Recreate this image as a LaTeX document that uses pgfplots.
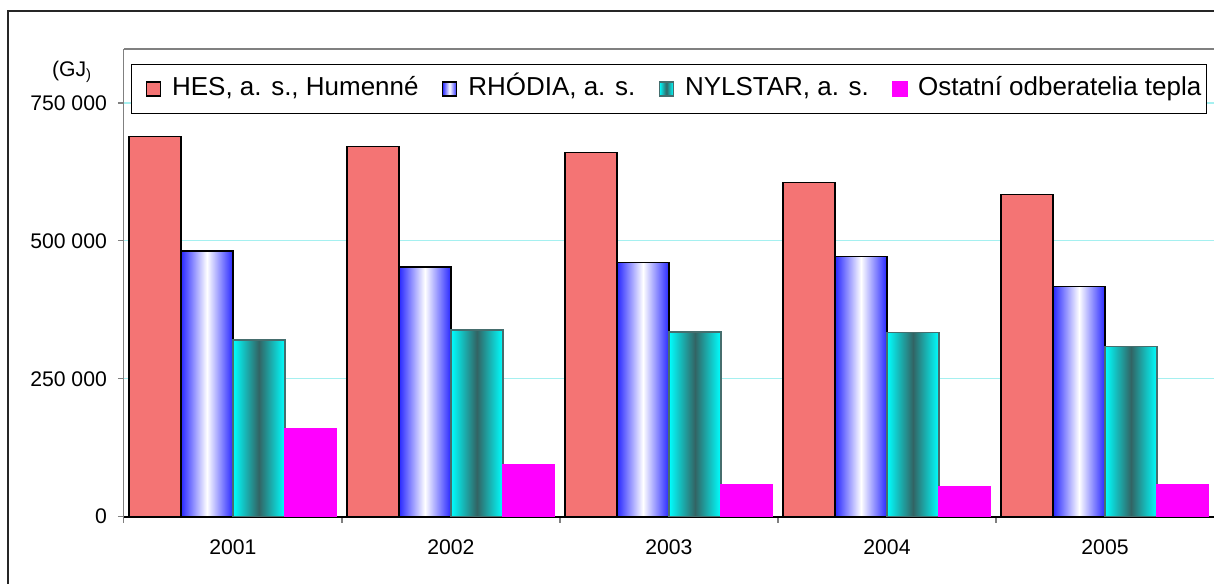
\documentclass[border=0pt]{standalone}
\usepackage{pgfplots}
\pgfplotsset{compat=1.18}
\usepackage{fontspec}
\setmainfont{Liberation Sans}
\definecolor{hes}{RGB}{244,116,116}
\definecolor{rhoblue}{RGB}{40,40,255}
\definecolor{nylcyan}{RGB}{0,255,255}
\definecolor{nyldark}{RGB}{50,100,100}
\definecolor{nylborder}{RGB}{70,110,110}
\definecolor{mag}{RGB}{255,0,255}
\definecolor{gridc}{RGB}{165,240,240}
\pgfdeclarehorizontalshading{rhoshade}{100bp}{color(0bp)=(rhoblue); color(25bp)=(rhoblue); color(50bp)=(white); color(75bp)=(rhoblue); color(100bp)=(rhoblue)}
\pgfdeclarehorizontalshading{nylshade}{100bp}{color(0bp)=(nylcyan); color(25bp)=(nylcyan); color(50bp)=(nyldark); color(75bp)=(nylcyan); color(100bp)=(nylcyan)}
\pgfplotstableread{
x hes rho nyl ost
0 689000 482000 320000 159000
1 671000 453000 338000 94000
2 660000 460700 334600 59000
3 605600 471600 333900 54000
4 583900 417200 308500 59000
}\datatable
\begin{document}
\begin{tikzpicture}
\path (-62pt,-33.5pt) rectangle (545.5pt,258.5pt);
\draw[overlay, line width=0.8pt,black!85] (-58pt,-60pt) -- (-58pt,253pt) -- (545.5pt,253pt);
\begin{axis}[
  scale only axis,
  width=545.5pt, height=234pt,
  at={(0,0)}, anchor=south west,
  clip=false,
  xmin=-0.5, xmax=4.5,
  ymin=0, ymax=848000,
  axis lines=left,
  axis line style={-},
  x axis line style={black, line width=1pt},
  y axis line style={gray, line width=0.6pt},
  ytick={0,250000,500000,750000},
  yticklabels={0,250 000,500 000,750 000},
  scaled y ticks=false,
  ymajorgrids,
  major grid style={gridc, line width=0.6pt},
  tick align=outside,
  major tick length=3pt,
  tick style={gray, line width=0.6pt},
  xtick={-0.5,0.5,1.5,2.5,3.5},
  xticklabels={},
  extra x ticks={0,1,2,3,4},
  extra x tick labels={2001,2002,2003,2004,2005},
  extra x tick style={major tick length=0pt, grid=none},
  ticklabel style={font=\fontsize{10.6}{12}\selectfont, black},
  xticklabel style={yshift=-8pt},
  yticklabel style={xshift=-2pt},
  legend columns=4,
  legend style={
    at={(rel axis cs:0.0064,0.968)}, anchor=north west,
    draw=black, line width=0.7pt,
    inner xsep=2.5pt, inner ysep=6pt,
    font=\fontsize{13}{15}\selectfont,
    nodes={inner sep=0pt, text height=9.5pt, text depth=3pt},
    /tikz/every odd column/.append style={column sep=5pt},
    /tikz/every even column/.append style={column sep=7.2pt},
  },
  legend image code/.code={
    \path (0pt,-3.75pt) (12pt,3.75pt);
    \draw[#1, line width=0.8pt] (4.5pt,-3.5pt) rectangle (11.5pt,3.5pt);
  },
  every axis plot/.append style={ybar, bar width=26pt},
]
% HES
\addplot[draw=black, line width=0.8pt, fill=hes, bar shift=-39pt] table[x=x,y=hes]{\datatable};
\addlegendentry{HES, a. s., Humenné}
% RHODIA: one plot per bar so that each bar gets its own shading
\addlegendimage{draw=black, shade, shading=rhoshade}
\addlegendentry{RHÓDIA, a. s.}
\pgfplotsinvokeforeach{0,1,2,3,4}{
  \addplot[forget plot, draw=black, line width=0.8pt, shade, shading=rhoshade, bar shift=-13pt,
    restrict x to domain=#1:#1] table[x=x,y=rho]{\datatable};
}
% NYLSTAR
\addlegendimage{draw=nylborder, shade, shading=nylshade}
\addlegendentry{NYLSTAR, a. s.}
\pgfplotsinvokeforeach{0,1,2,3,4}{
  \addplot[forget plot, draw=nylborder, line width=0.8pt, shade, shading=nylshade, bar shift=13pt,
    restrict x to domain=#1:#1] table[x=x,y=nyl]{\datatable};
}
% Ostatni
\addplot[draw=mag, line width=0.5pt, fill=mag, bar shift=39pt] table[x=x,y=ost]{\datatable};
\addlegendentry{Ostatní odberatelia tepla}
\draw[gray, line width=0.6pt] (rel axis cs:0,1) -- (rel axis cs:1,1);
\node[font=\fontsize{10.6}{12}\selectfont, anchor=center] at (rel axis cs:-0.0475,0.951) {(GJ\textsubscript{)}};
\end{axis}
\end{tikzpicture}
\end{document}
